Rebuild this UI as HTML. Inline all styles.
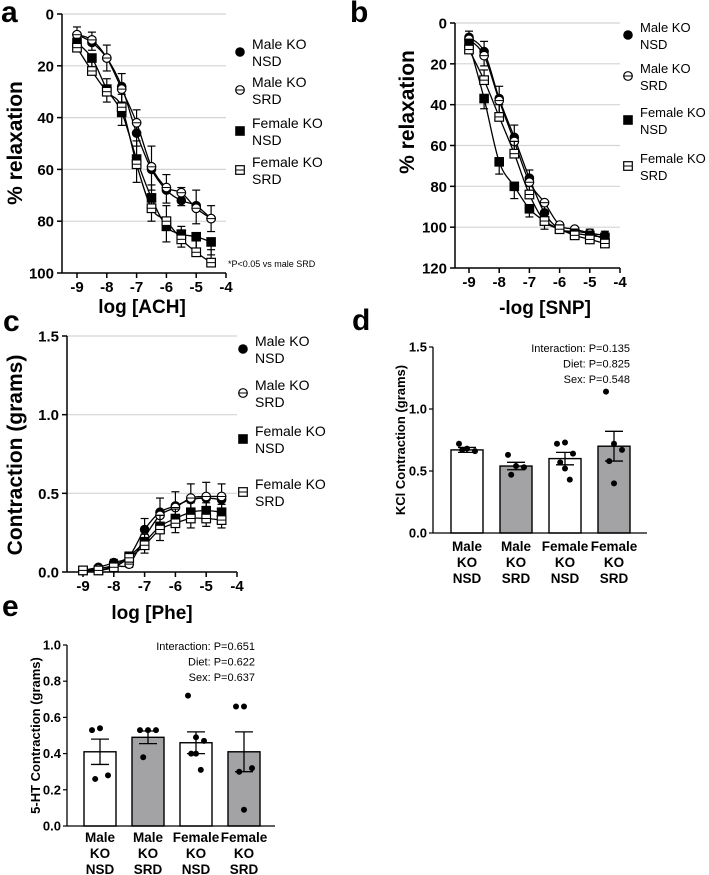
<!DOCTYPE html>
<html><head><meta charset="utf-8">
<style>
html,body{margin:0;padding:0;background:#fff;}
svg{display:block;font-family:"Liberation Sans",Arial,sans-serif;}
</style></head>
<body>
<svg id="fig" width="709" height="875" viewBox="0 0 709 875" xmlns="http://www.w3.org/2000/svg"></svg>
<script>
// ---------- DATA ----------
const logDoses = [-9,-8.5,-8,-7.5,-7,-6.5,-6,-5.5,-5,-4.5];
const seriesNames = ["Male KO NSD","Male KO SRD","Female KO NSD","Female KO SRD"];
// Panel a (ACH, % relaxation)
const achMaleNSD   = [8,11,17,28,46,60,68,72,74,79];
const achMaleSRD   = [8,10,17,29,42,59,67,69,75,79];
const achFemaleNSD = [11,17,29,38,56,71,82,85,86,88];
const achFemaleSRD = [13,22,30,36,58,75,80,87,92,96];
const achErr       = [3,4,5,5,9,9,6,5,6,5];
// Panel b (SNP, % relaxation)
const snpMaleNSD   = [7,14,37,56,76,93,101,102,103,104];
const snpMaleSRD   = [8,16,38,58,78,88,99,101,103,106];
const snpFemaleNSD = [10,37,68,80,91,97,101,103,104,105];
const snpFemaleSRD = [13,28,46,64,84,97,101,104,106,108];
const snpErr       = [3,5,6,6,4,4,2,2,2,2];
// Panel c (Phe, grams)
const pheMaleNSD   = [0.01,0.03,0.06,0.10,0.27,0.38,0.42,0.46,0.47,0.46];
const pheMaleSRD   = [0.01,0.02,0.04,0.05,0.22,0.36,0.41,0.47,0.48,0.48];
const pheFemaleNSD = [0.01,0.01,0.04,0.10,0.19,0.29,0.34,0.38,0.39,0.38];
const pheFemaleSRD = [0.01,0.01,0.03,0.09,0.17,0.27,0.31,0.34,0.34,0.33];
const pheErr       = [0.01,0.01,0.02,0.02,0.07,0.09,0.09,0.10,0.10,0.10];
// Panel d (KCl)
const barCats = [["Male","KO","NSD"],["Male","KO","SRD"],["Female","KO","NSD"],["Female","KO","SRD"]];
const kclMeans = [0.67,0.54,0.60,0.70];
const kclSem   = [0.02,0.03,0.05,0.12];
const kclPts   = [[0.72,0.68,0.66,0.67],[0.63,0.54,0.53,0.47],[0.72,0.73,0.64,0.57,0.52,0.43],[1.14,0.72,0.67,0.58,0.40]];
const kclStats = ["Interaction: P=0.135","Diet: P=0.825","Sex: P=0.548"];
// Panel e (5-HT)
const htMeans = [0.41,0.49,0.46,0.41];
const htSem   = [0.07,0.035,0.06,0.11];
const htPts   = [[0.53,0.54,0.28,0.26],[0.53,0.53,0.53,0.38],[0.72,0.49,0.47,0.40,0.40,0.31],[0.66,0.66,0.32,0.30,0.09]];
const htStats = ["Interaction: P=0.651","Diet: P=0.622","Sex: P=0.637"];
const barFills = ["#fff","#a3a3a5","#fff","#a3a3a5"];

// ---------- helpers ----------
const NS="http://www.w3.org/2000/svg";
const svg=document.getElementById('fig');
function mk(tag,attrs,parent){const e=document.createElementNS(NS,tag);for(const k in attrs)e.setAttribute(k,attrs[k]);(parent||svg).appendChild(e);return e;}
function txt(s,x,y,size,opts,parent){opts=opts||{};const t=mk('text',{x:x,y:y,'font-size':size,'font-weight':opts.w||'bold','text-anchor':opts.a||'start',fill:'#000'},parent);if(opts.rot)t.setAttribute('transform','rotate(-90 '+x+' '+y+')');t.textContent=s;return t;}
function smoothPath(pts){let d='M'+pts[0][0]+','+pts[0][1];for(let i=0;i<pts.length-1;i++){const p0=pts[i-1]||pts[i],p1=pts[i],p2=pts[i+1],p3=pts[i+2]||p2;const c1x=p1[0]+(p2[0]-p0[0])/6,c1y=p1[1]+(p2[1]-p0[1])/6,c2x=p2[0]-(p3[0]-p1[0])/6,c2y=p2[1]-(p3[1]-p1[1])/6;d+=' C'+c1x+','+c1y+' '+c2x+','+c2y+' '+p2[0]+','+p2[1];}return d;}
function marker(kind,x,y,g){
  if(kind===0){mk('circle',{cx:x,cy:y,r:4.8,fill:'#000'},g);}
  else if(kind===1){mk('circle',{cx:x,cy:y,r:4.3,fill:'#fff',stroke:'#000','stroke-width':1.2},g);mk('line',{x1:x-4,x2:x+4,y1:y,y2:y,stroke:'#000','stroke-width':1},g);}
  else if(kind===2){mk('rect',{x:x-4.8,y:y-4.8,width:9.6,height:9.6,fill:'#000'},g);}
  else {mk('rect',{x:x-4.3,y:y-4.3,width:8.6,height:8.6,fill:'#fff',stroke:'#000','stroke-width':1.2},g);mk('line',{x1:x-4,x2:x+4,y1:y,y2:y,stroke:'#000','stroke-width':1},g);}
}

function curvePanel(cfg){
  const g=mk('g',{});
  
  
  const sx=v=>cfg.x0+(v-(-9))/5*(cfg.x1-cfg.x0)+cfg.xpad;
  const sy=v=>cfg.yTop+(v-cfg.vTop)/(cfg.vBot-cfg.vTop)*(cfg.yBot-cfg.yTop);
  // gridlines
  cfg.ticks.forEach(t=>{
    if(t!==cfg.vBot){const l=mk('line',{x1:cfg.ax,x2:cfg.gridEnd,y1:sy(t),y2:sy(t),stroke:'#d4d4d4','stroke-width':1.2},g);
      
      }
    mk('line',{x1:cfg.ax-5,x2:cfg.ax,y1:sy(t),y2:sy(t),stroke:'#000','stroke-width':1.5},g);
    const tl=txt(cfg.fmt(t),cfg.ax-8,sy(t)+5.5,cfg.tfs,{a:'end'},g);
    
    
  });
  // axes
  const ya=mk('line',{x1:cfg.ax,x2:cfg.ax,y1:cfg.yTop,y2:cfg.axisBottom,stroke:'#000','stroke-width':1.5},g);
  
  
  const xa=mk('line',{x1:cfg.ax,x2:cfg.x1+cfg.xpad,y1:cfg.axisBottom,y2:cfg.axisBottom,stroke:'#000','stroke-width':1.5},g);
  
  
  [-9,-8,-7,-6,-5,-4].forEach(t=>{
    mk('line',{x1:sx(t),x2:sx(t),y1:cfg.axisBottom,y2:cfg.axisBottom+5,stroke:'#000','stroke-width':1.5},g);
    const tl=txt(String(t),sx(t),cfg.axisBottom+19,cfg.tfs,{a:'middle'},g);
    
    
  });
  // series
  cfg.series.forEach((vals,si)=>{
    const sg=mk('g',{},g);
    
    
    const pts=vals.map((v,i)=>[sx(logDoses[i]),sy(v)]);
    mk('path',{d:smoothPath(pts),fill:'none',stroke:'#000','stroke-width':1.3},sg);
    vals.forEach((v,i)=>{
      const x=sx(logDoses[i]),e=cfg.err[i];
      const dir=(si%2===0)?1:-1;
      const ye=sy(v+dir*e*(cfg.vBot>cfg.vTop?1:-1)*((si<2)?-1:1));
      mk('line',{x1:x,x2:x,y1:sy(v),y2:ye,stroke:'#000','stroke-width':1.2},sg);
      mk('line',{x1:x-4,x2:x+4,y1:ye,y2:ye,stroke:'#000','stroke-width':1.2},sg);
    });
    vals.forEach((v,i)=>{marker(si,sx(logDoses[i]),sy(v),sg);});
  });
  // legend
  cfg.legY.forEach((ly,i)=>{
    const lg=mk('g',{},g);
    
    
    marker(i,cfg.legX,ly,lg);
    const parts=seriesNames[i].split(' ');
    txt(parts[0]+' '+parts[1],cfg.legX+12,ly-3,cfg.lfs,{w:'normal'},lg);
    txt(parts[2],cfg.legX+12,ly+14,cfg.lfs,{w:'normal'},lg);
  });
  const xt=txt(cfg.xTitle,cfg.xTitleX,cfg.xTitleY,19,{a:'middle'},g);
  
  
  const yt=txt(cfg.yTitle,cfg.yTitleX,cfg.yTitleY,cfg.ytfs,{a:'middle',rot:true},g);
  
  
  const pl=txt(cfg.letter,cfg.letterX,cfg.letterY,30,{},g);
  
  
  return g;
}

curvePanel({name:'panel-a-ach-chart',ax:62,x0:77,x1:226,xpad:0,yTop:14,yBot:273,vTop:0,vBot:100,axisBottom:273,gridEnd:226,
  ticks:[0,20,40,60,80,100],fmt:t=>String(t),tfs:15,lfs:14,
  series:[achMaleNSD,achMaleSRD,achFemaleNSD,achFemaleSRD],err:achErr,
  legX:240,legY:[52,90,131,170],xTitle:'log [ACH]',xTitleX:142,xTitleY:313,
  yTitle:'% relaxation',yTitleX:22,yTitleY:143,ytfs:21,letter:'a',letterX:1,letterY:22});
const note=txt('*P<0.05 vs male SRD',228,267,9,{w:'normal'});



curvePanel({name:'panel-b-snp-chart',ax:455,x0:469,x1:620,xpad:0,yTop:23,yBot:268,vTop:0,vBot:120,axisBottom:268,gridEnd:620,
  ticks:[0,20,40,60,80,100,120],fmt:t=>String(t),tfs:15,lfs:13,
  series:[snpMaleNSD,snpMaleSRD,snpFemaleNSD,snpFemaleSRD],err:snpErr,
  legX:628,legY:[35,76,120,166],xTitle:'-log [SNP]',xTitleX:545,xTitleY:314,
  yTitle:'% relaxation',yTitleX:414,yTitleY:112,ytfs:21,letter:'b',letterX:350,letterY:22});

curvePanel({name:'panel-c-phe-chart',ax:67,x0:83,x1:237,xpad:0,yTop:336,yBot:572,vTop:1.5,vBot:0,axisBottom:572,gridEnd:237,
  ticks:[1.5,1.0,0.5,0.0],fmt:t=>t.toFixed(1),tfs:15,lfs:14,
  series:[pheMaleNSD,pheMaleSRD,pheFemaleNSD,pheFemaleSRD],err:pheErr,
  legX:243,legY:[349,393,439,492],xTitle:'log [Phe]',xTitleX:152,xTitleY:619,
  yTitle:'Contraction (grams)',yTitleX:22,yTitleY:455,ytfs:21,letter:'c',letterX:3,letterY:331});

function barPanel(cfg){
  const g=mk('g',{});
  
  
  const sy=v=>cfg.yBot-(v/cfg.vMax)*(cfg.yBot-cfg.yTop);
  const sx=i=>cfg.c0+i*cfg.step;
  cfg.ticks.forEach(t=>{
    mk('line',{x1:cfg.ax-4,x2:cfg.ax,y1:sy(t),y2:sy(t),stroke:'#000','stroke-width':1.2},g);
    const tl=txt(t.toFixed(1),cfg.ax-6,sy(t)+4.5,13,{a:'end'},g);
    
    
  });
  cfg.means.forEach((m,i)=>{
    const bg=mk('g',{},g);
    
    
    const x=sx(i);
    mk('rect',{x:x-cfg.bw/2,y:sy(m),width:cfg.bw,height:cfg.yBot-sy(m),fill:barFills[i],stroke:'#000','stroke-width':1.4},bg);
    const hi=sy(m+cfg.sem[i]),lo=sy(m-cfg.sem[i]);
    mk('line',{x1:x,x2:x,y1:hi,y2:lo,stroke:'#000','stroke-width':1.3},bg);
    mk('line',{x1:x-9,x2:x+9,y1:hi,y2:hi,stroke:'#000','stroke-width':1.3},bg);
    mk('line',{x1:x-9,x2:x+9,y1:lo,y2:lo,stroke:'#000','stroke-width':1.3},bg);
    const pts=cfg.pts[i],n=pts.length;
    pts.forEach((p,j)=>{
      const off=(n>1)?((j%3)-1)*8*(j<3?1:0.6):0;
      const c=mk('circle',{cx:x+off,cy:sy(p),r:3,fill:'#000'},bg);
      
      
    });
    barCats[i].forEach((w,k)=>{txt(w,x,cfg.labY+k*16,13.5,{a:'middle'},bg);});
  });
  const ya=mk('line',{x1:cfg.ax,x2:cfg.ax,y1:cfg.yTop,y2:cfg.yBot,stroke:'#000','stroke-width':1.3},g);
  
  
  const xa=mk('line',{x1:cfg.ax,x2:cfg.xEnd,y1:cfg.yBot,y2:cfg.yBot,stroke:'#000','stroke-width':1.3},g);
  
  
  cfg.stats.forEach((s,k)=>{
    const st=txt(s,cfg.statX,cfg.yTop+5+k*15.5,11,{w:'normal',a:'end'},g);
    
    
  });
  const yt=txt(cfg.yTitle,cfg.yTitleX,(cfg.yTop+cfg.yBot)/2,13,{a:'middle',rot:true},g);
  
  
  const pl=txt(cfg.letter,cfg.letterX,cfg.letterY,30,{},g);
  
  
}

barPanel({name:'panel-d-kcl-chart',ax:433,yTop:347,yBot:533,vMax:1.5,ticks:[0,0.5,1.0,1.5],
  c0:467,step:49,bw:32,xEnd:647,means:kclMeans,sem:kclSem,pts:kclPts,stats:kclStats,statX:630,
  labY:551,yTitle:'KCl Contraction (grams)',yTitleX:405,letter:'d',letterX:352,letterY:330});
barPanel({name:'panel-e-5ht-chart',ax:67,yTop:645,yBot:826,vMax:1.0,ticks:[0,0.2,0.4,0.6,0.8,1.0],
  c0:100,step:48,bw:32,xEnd:275,means:htMeans,sem:htSem,pts:htPts,stats:htStats,statX:255,
  labY:842,yTitle:'5-HT Contraction (grams)',yTitleX:40,letter:'e',letterX:2,letterY:616});
</script>
</body></html>
